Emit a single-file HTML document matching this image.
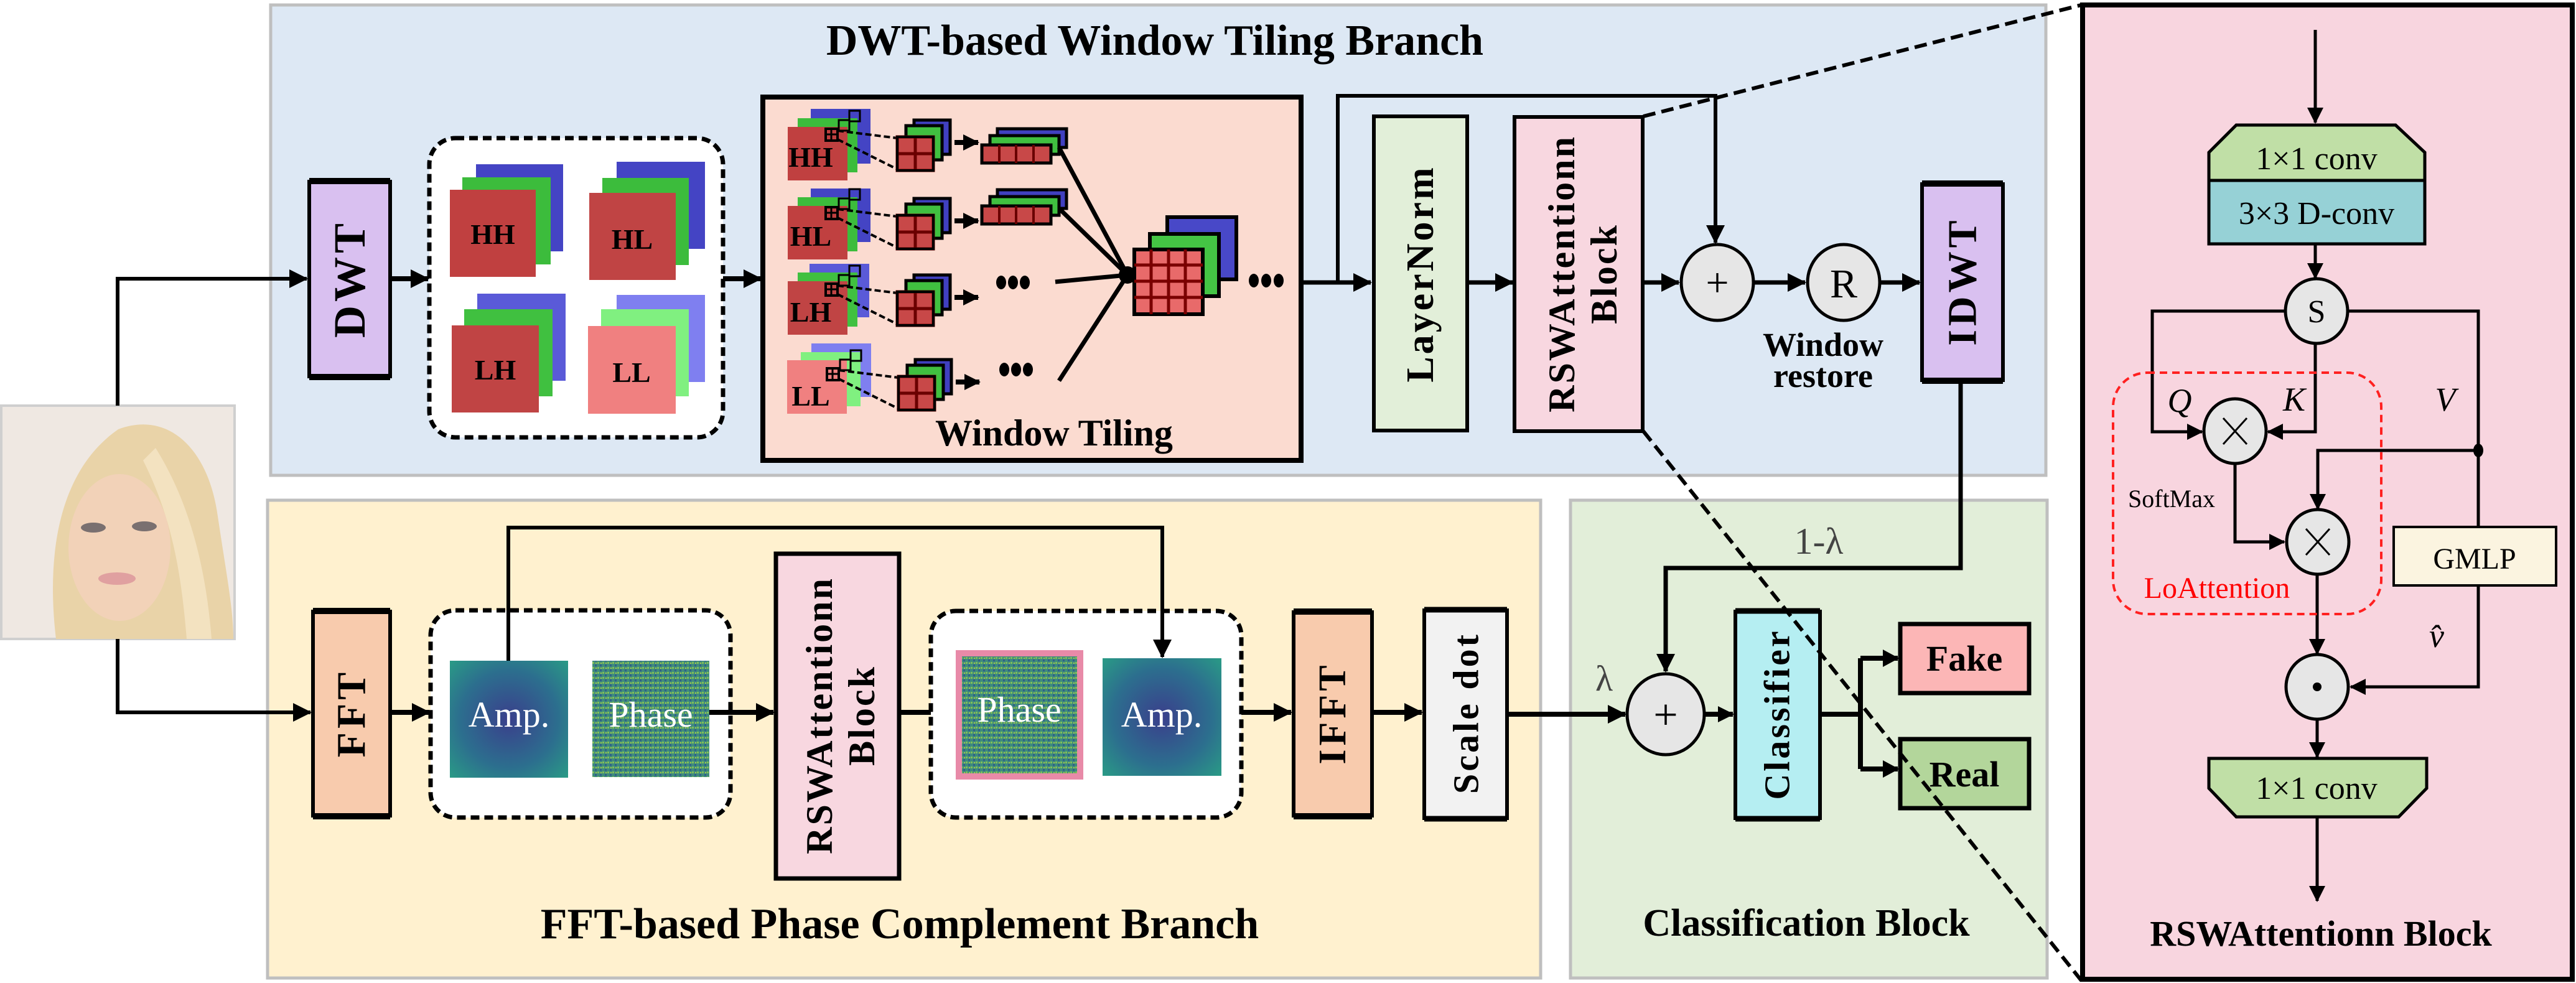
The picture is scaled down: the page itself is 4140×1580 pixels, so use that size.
<!DOCTYPE html>
<html><head><meta charset="utf-8"><style>html,body{margin:0;padding:0;background:#fff}svg{display:block}</style></head>
<body>
<svg xmlns="http://www.w3.org/2000/svg" width="4140" height="1580" viewBox="0 0 4140 1580">
<defs>
<marker id="ah" markerUnits="userSpaceOnUse" markerWidth="30" markerHeight="30" refX="28" refY="15" orient="auto"><path d="M0,0 L30,15 L0,30 z" fill="#000"/></marker>
<marker id="as" markerUnits="userSpaceOnUse" markerWidth="26" markerHeight="26" refX="24" refY="13" orient="auto"><path d="M0,0 L26,13 L0,26 z" fill="#000"/></marker>
<radialGradient id="amp" cx="0.5" cy="0.5" r="0.7"><stop offset="0" stop-color="#3a3f8c"/><stop offset="0.6" stop-color="#2c6f8e"/><stop offset="1" stop-color="#2a9a86"/></radialGradient>
<pattern id="noise" width="8" height="8" patternUnits="userSpaceOnUse"><rect width="8" height="8" fill="#3f8b7c"/><rect x="0" y="0" width="3" height="3" fill="#7fbf5a"/><rect x="4" y="4" width="3" height="3" fill="#2f5f8a"/><rect x="5" y="1" width="2" height="2" fill="#a8c94a"/></pattern>
<g id="tiles">
 <rect x="27" y="-27" width="58" height="55" fill="#4040c0" stroke="#000" stroke-width="5"/>
 <rect x="14" y="-18" width="58" height="55" fill="#40c040" stroke="#000" stroke-width="5"/>
 <rect x="0" y="0" width="58" height="54" fill="#c84848" stroke="#6a0000" stroke-width="5"/>
 <path d="M29,0V54M0,27H58" stroke="#6a0000" stroke-width="5"/>
 <rect x="0" y="0" width="58" height="54" fill="none" stroke="#000" stroke-width="4"/>
</g>
<g id="strip">
 <rect x="25" y="-26" width="111" height="30" fill="#4040c0" stroke="#000" stroke-width="5"/>
 <rect x="13" y="-15" width="111" height="30" fill="#40c040" stroke="#000" stroke-width="5"/>
 <rect x="0" y="0" width="111" height="29" fill="#c84848" stroke="#000" stroke-width="5"/>
 <path d="M28,0V29M55,0V29M83,0V29" stroke="#6a0000" stroke-width="4"/>
</g>
<g id="rowt">
<rect x="1327" y="207" width="19" height="19" fill="none" stroke="#000" stroke-width="4"/><path d="M1336,207V226M1327,216H1346" stroke="#000" stroke-width="3"/>
<rect x="1348" y="193" width="17" height="17" fill="none" stroke="#000" stroke-width="3"/>
<rect x="1365" y="178" width="17" height="17" fill="none" stroke="#000" stroke-width="3"/>
<path d="M1346,210 L1442,222 M1346,224 L1442,272" stroke="#000" stroke-width="4" stroke-dasharray="10,5"/>
<use href="#tiles" x="1442" y="220"/>
<line x1="1534" y1="229" x2="1572" y2="229" stroke="#000" stroke-width="8" marker-end="url(#as)"/>
</g>
</defs>

<!-- panels -->
<rect x="435" y="8" width="2853" height="756" fill="#dde8f4" stroke="#bfbfbf" stroke-width="5"/>
<rect x="430" y="804" width="2046" height="768" fill="#fff1cf" stroke="#bfbfbf" stroke-width="5"/>
<rect x="2524" y="804" width="766" height="768" fill="#e2eed9" stroke="#bfbfbf" stroke-width="5"/>
<rect x="3347" y="8" width="787" height="1566" fill="#f8d5df" stroke="#000" stroke-width="8"/>

<!-- titles -->
<g font-family="Liberation Serif, serif" font-weight="bold" fill="#000">
<text x="1856" y="88" font-size="70" text-anchor="middle">DWT-based Window Tiling Branch</text>
<text x="1446" y="1508" font-size="70" text-anchor="middle">FFT-based Phase Complement Branch</text>
<text x="2903" y="1504" font-size="62" text-anchor="middle">Classification Block</text>
<text x="3730" y="1520" font-size="58" text-anchor="middle">RSWAttentionn Block</text>
</g>

<!-- face -->
<rect x="2" y="652" width="375" height="375" fill="#efe8e2" stroke="#cfcfcf" stroke-width="4"/>
<path d="M90,1027 C75,900 90,760 190,690 C270,660 335,720 350,830 C365,930 375,980 375,1027 Z" fill="#e9d3a8"/>
<ellipse cx="192" cy="880" rx="82" ry="118" fill="#f2d2b8"/>
<ellipse cx="150" cy="848" rx="20" ry="8" fill="#7a7070"/><ellipse cx="232" cy="846" rx="20" ry="8" fill="#7a7070"/>
<ellipse cx="188" cy="930" rx="30" ry="10" fill="#e0a0a0"/>
<path d="M250,720 C300,800 330,900 340,1027 L300,1027 C290,900 270,820 230,740Z" fill="#f3e2c0"/>

<!-- input lines -->
<g stroke="#000" stroke-width="6" fill="none">
<path d="M189,652 V448 H493" marker-end="url(#ah)"/>
<path d="M189,1027 V1145 H499" marker-end="url(#ah)"/>
</g>

<!-- DWT box -->
<rect x="497" y="292" width="130" height="313" fill="#d9c0f0" stroke="#000" stroke-width="6"/>
<path d="M497,291H627M497,606H627" stroke="#000" stroke-width="10"/>
<line x1="629" y1="448" x2="688" y2="448" stroke="#000" stroke-width="8" marker-end="url(#ah)"/>

<!-- dashed box 1 -->
<rect x="690" y="222" width="472" height="481" rx="42" fill="#fff" stroke="#000" stroke-width="7" stroke-dasharray="14,8"/>
<g>
<rect x="765" y="264" width="140" height="140" fill="#4444c4"/><rect x="743" y="285" width="142" height="140" fill="#3cbc3c"/><rect x="723" y="305" width="138" height="140" fill="#c04040"/>
<rect x="991" y="260" width="142" height="140" fill="#4444c4"/><rect x="968" y="286" width="139" height="140" fill="#3cbc3c"/><rect x="947" y="310" width="139" height="140" fill="#c04444"/>
<rect x="767" y="472" width="142" height="140" fill="#5a5ad8"/><rect x="746" y="497" width="142" height="140" fill="#40c040"/><rect x="726" y="523" width="140" height="140" fill="#c04444"/>
<rect x="991" y="474" width="142" height="140" fill="#7f7ff0"/><rect x="966" y="497" width="141" height="140" fill="#80f080"/><rect x="945" y="524" width="141" height="141" fill="#f08080"/>
</g>
<g font-family="Liberation Serif, serif" font-weight="bold" font-size="46" text-anchor="middle">
<text x="792" y="392">HH</text><text x="1016" y="400">HL</text><text x="796" y="610">LH</text><text x="1015" y="614">LL</text>
</g>
<line x1="1162" y1="448" x2="1223" y2="448" stroke="#000" stroke-width="8" marker-end="url(#ah)"/>

<!-- Window tiling -->
<rect x="1226" y="156" width="865" height="584" fill="#fbdbd0" stroke="#000" stroke-width="8"/>
<text x="1694" y="716" font-family="Liberation Serif, serif" font-weight="bold" font-size="60" text-anchor="middle">Window Tiling</text>
<!-- row images -->
<rect x="1303" y="175" width="96" height="88" fill="#4444c4"/><rect x="1282" y="190" width="96" height="87" fill="#3cbc3c"/><rect x="1266" y="204" width="96" height="86" fill="#c04040"/>
<rect x="1303" y="303" width="96" height="86" fill="#4444c4"/><rect x="1282" y="317" width="96" height="87" fill="#3cbc3c"/><rect x="1266" y="331" width="96" height="86" fill="#c04040"/>
<rect x="1301" y="424" width="96" height="86" fill="#5a5ad8"/><rect x="1282" y="438" width="96" height="87" fill="#40c040"/><rect x="1266" y="452" width="96" height="86" fill="#c04444"/>
<rect x="1304" y="552" width="96" height="86" fill="#7f7ff0"/><rect x="1287" y="566" width="96" height="87" fill="#80f080"/><rect x="1265" y="579" width="96" height="86" fill="#f08080"/>
<use href="#rowt" x="0" y="0"/>
<use href="#rowt" x="0" y="126"/>
<use href="#rowt" x="0" y="249"/>
<use href="#rowt" x="2" y="385"/>
<use href="#strip" x="1578" y="233"/>
<use href="#strip" x="1578" y="331"/>
<g font-family="Liberation Serif, serif" font-weight="bold" font-size="46" text-anchor="middle">
<text x="1303" y="268">HH</text><text x="1303" y="395">HL</text><text x="1303" y="517">LH</text><text x="1303" y="652">LL</text>
</g>
<g fill="#000">
<ellipse cx="1609" cy="454" rx="8" ry="11"/><ellipse cx="1628" cy="454" rx="8" ry="11"/><ellipse cx="1647" cy="454" rx="8" ry="11"/>
<ellipse cx="1614" cy="594" rx="8" ry="11"/><ellipse cx="1633" cy="594" rx="8" ry="11"/><ellipse cx="1652" cy="594" rx="8" ry="11"/>
<ellipse cx="2015" cy="451" rx="8" ry="11"/><ellipse cx="2035" cy="451" rx="8" ry="11"/><ellipse cx="2055" cy="451" rx="8" ry="11"/>
</g>
<g stroke="#000" stroke-width="7">
<line x1="1702" y1="237" x2="1812" y2="442"/><line x1="1702" y1="335" x2="1812" y2="442"/><line x1="1696" y1="453" x2="1812" y2="442"/><line x1="1702" y1="612" x2="1812" y2="442"/>
</g>
<circle cx="1812" cy="442" r="14" fill="#000"/>
<!-- big stack -->
<rect x="1876" y="349" width="111" height="100" fill="#4848c8" stroke="#000" stroke-width="6"/>
<rect x="1848" y="376" width="111" height="100" fill="#44c444" stroke="#000" stroke-width="6"/>
<rect x="1823" y="401" width="110" height="104" fill="#e86a6a" stroke="#000" stroke-width="6"/>
<path d="M1823,426H1933M1823,452H1933M1823,478H1933M1850,401V505M1878,401V505M1905,401V505" stroke="#7a0000" stroke-width="5"/>

<!-- LayerNorm etc -->
<g stroke="#000" stroke-width="7" fill="none">
<path d="M2092,454 H2203" marker-end="url(#ah)"/>
<path d="M2150,454 V154 H2757 V390" marker-end="url(#ah)" stroke-width="6"/>
<path d="M2359,454 H2431" marker-end="url(#ah)"/>
<path d="M2641,454 H2698" marker-end="url(#ah)"/>
<path d="M2820,454 H2901" marker-end="url(#ah)"/>
<path d="M3023,454 H3085" marker-end="url(#ah)"/>
</g>
<rect x="2208" y="187" width="150" height="505" fill="#e2efd9" stroke="#000" stroke-width="6"/>
<rect x="2434" y="188" width="206" height="505" fill="#f8d7e0" stroke="#000" stroke-width="6"/>
<ellipse cx="2760" cy="454" rx="58" ry="61" fill="#e6e6e6" stroke="#000" stroke-width="5"/>
<ellipse cx="2963" cy="454" rx="58" ry="61" fill="#e6e6e6" stroke="#000" stroke-width="5"/>
<text x="2760" y="476" font-family="Liberation Serif, serif" font-size="66" text-anchor="middle">+</text>
<text x="2963" y="478" font-family="Liberation Serif, serif" font-size="66" text-anchor="middle">R</text>
<g font-family="Liberation Serif, serif" font-weight="bold" font-size="54" text-anchor="middle">
<text x="2930" y="572">Window</text><text x="2930" y="622">restore</text>
</g>
<rect x="3089" y="296" width="130" height="315" fill="#d9c0f0" stroke="#000" stroke-width="6"/>
<path d="M3089,295H3219M3089,612H3219" stroke="#000" stroke-width="10"/>

<!-- FFT branch -->
<rect x="503" y="983" width="124" height="328" fill="#f8cbad" stroke="#000" stroke-width="6"/>
<path d="M503,982H627M503,1312H627" stroke="#000" stroke-width="10"/>
<line x1="629" y1="1145" x2="690" y2="1145" stroke="#000" stroke-width="8" marker-end="url(#ah)"/>
<rect x="692" y="981" width="482" height="333" rx="40" fill="#fff" stroke="#000" stroke-width="7" stroke-dasharray="14,8"/>
<rect x="723" y="1062" width="190" height="188" fill="url(#amp)"/>
<rect x="952" y="1062" width="188" height="187" fill="url(#noise)"/>
<line x1="1140" y1="1145" x2="1243" y2="1145" stroke="#000" stroke-width="8" marker-end="url(#ah)"/>
<rect x="1247" y="890" width="198" height="522" fill="#f8d7e0" stroke="#000" stroke-width="7"/>
<line x1="1446" y1="1145" x2="1534" y2="1145" stroke="#000" stroke-width="8" marker-end="url(#ah)"/>
<rect x="1496" y="982" width="499" height="332" rx="40" fill="#fff" stroke="#000" stroke-width="7" stroke-dasharray="14,8"/>
<rect x="1541" y="1050" width="195" height="198" fill="url(#noise)" stroke="#e88aa8" stroke-width="10"/>
<rect x="1772" y="1058" width="191" height="189" fill="url(#amp)"/>
<path d="M817,1062 V848 H1868 V1056" stroke="#000" stroke-width="6" fill="none" marker-end="url(#ah)"/>
<g font-family="Liberation Serif, serif" font-size="58" fill="#fff" text-anchor="middle">
<text x="818" y="1168">Amp.</text><text x="1046" y="1168">Phase</text><text x="1638" y="1160">Phase</text><text x="1867" y="1168">Amp.</text>
</g>
<line x1="1995" y1="1145" x2="2075" y2="1145" stroke="#000" stroke-width="8" marker-end="url(#ah)"/>
<rect x="2079" y="984" width="126" height="327" fill="#f8cbad" stroke="#000" stroke-width="6"/>
<path d="M2079,983H2205M2079,1312H2205" stroke="#000" stroke-width="10"/>
<line x1="2207" y1="1145" x2="2285" y2="1145" stroke="#000" stroke-width="8" marker-end="url(#ah)"/>
<rect x="2289" y="981" width="133" height="334" fill="#f2f2f2" stroke="#000" stroke-width="6"/>
<path d="M2289,980H2422M2289,1316H2422" stroke="#000" stroke-width="9"/>

<!-- classification -->
<path d="M3151,612 V913 H2677 V1079" stroke="#000" stroke-width="7" fill="none" marker-end="url(#ah)"/>
<line x1="2423" y1="1148" x2="2612" y2="1148" stroke="#000" stroke-width="8" marker-end="url(#ah)"/>
<ellipse cx="2677" cy="1148" rx="62" ry="65" fill="#e6e6e6" stroke="#000" stroke-width="5"/>
<text x="2677" y="1172" font-family="Liberation Serif, serif" font-size="70" text-anchor="middle">+</text>
<text x="2923" y="890" font-family="Liberation Serif, serif" font-size="60" fill="#444" text-anchor="middle">1-λ</text>
<text x="2578" y="1110" font-family="Liberation Serif, serif" font-size="58" fill="#444" text-anchor="middle">λ</text>
<line x1="2740" y1="1148" x2="2785" y2="1148" stroke="#000" stroke-width="8" marker-end="url(#as)"/>
<rect x="2789" y="983" width="136" height="332" fill="#b5eef2" stroke="#000" stroke-width="6"/>
<path d="M2789,982H2925M2789,1316H2925" stroke="#000" stroke-width="9"/>
<path d="M2926,1148 H2990 M2990,1058 V1236 M2990,1058 H3050 M2990,1236 H3050" stroke="#000" stroke-width="8" fill="none"/>
<path d="M3026,1044 L3052,1058 L3026,1072Z M3026,1222 L3052,1236 L3026,1250Z" fill="#000"/>
<rect x="3054" y="1003" width="207" height="111" fill="#fcb6b6" stroke="#000" stroke-width="7"/>
<rect x="3054" y="1188" width="207" height="111" fill="#b3d69b" stroke="#000" stroke-width="7"/>
<g font-family="Liberation Serif, serif" font-weight="bold" font-size="58" text-anchor="middle">
<text x="3157" y="1078">Fake</text><text x="3157" y="1264">Real</text>
</g>

<!-- rotated labels -->
<g font-family="Liberation Serif, serif" font-weight="bold" text-anchor="middle" dominant-baseline="central" fill="#000">
<text transform="translate(562,448) rotate(-90)" font-size="72" letter-spacing="6">DWT</text>
<text transform="translate(2283,440) rotate(-90)" font-size="62" letter-spacing="4">LayerNorm</text>
<text transform="translate(2510,440) rotate(-90)" font-size="60" letter-spacing="3">RSWAttentionn</text>
<text transform="translate(2578,440) rotate(-90)" font-size="60" letter-spacing="3">Block</text>
<text transform="translate(3154,452) rotate(-90)" font-size="66" letter-spacing="6">IDWT</text>
<text transform="translate(565,1146) rotate(-90)" font-size="66" letter-spacing="6">FFT</text>
<text transform="translate(1317,1150) rotate(-90)" font-size="60" letter-spacing="3">RSWAttentionn</text>
<text transform="translate(1385,1150) rotate(-90)" font-size="60" letter-spacing="3">Block</text>
<text transform="translate(2142,1146) rotate(-90)" font-size="62" letter-spacing="6">IFFT</text>
<text transform="translate(2356,1146) rotate(-90)" font-size="58" letter-spacing="4">Scale dot</text>
<text transform="translate(2856,1148) rotate(-90)" font-size="58" letter-spacing="4">Classifier</text>
</g>

<!-- zoom dashed lines -->
<g stroke="#000" stroke-width="6" stroke-dasharray="20,10" fill="none">
<line x1="2641" y1="187" x2="3345" y2="8"/>
<line x1="2641" y1="693" x2="3345" y2="1576"/>
</g>

<!-- right panel internals -->
<g stroke="#000" stroke-width="5" fill="none">
<line x1="3721" y1="48" x2="3721" y2="197" marker-end="url(#as)"/>
<line x1="3721" y1="392" x2="3721" y2="447" marker-end="url(#as)"/>
<path d="M3672,500 H3459 V694 H3539" marker-end="url(#as)"/>
<path d="M3773,500 H3983 V846"/>
<path d="M3983,941 V1104 H3778" marker-end="url(#as)"/>
<path d="M3721,552 V694 H3645" marker-end="url(#as)"/>
<path d="M3983,724 H3725 V818" marker-end="url(#as)"/>
<path d="M3592,745 V871 H3671" marker-end="url(#as)"/>
<line x1="3724" y1="923" x2="3724" y2="1051" marker-end="url(#as)"/>
<line x1="3724" y1="1156" x2="3724" y2="1217" marker-end="url(#as)"/>
<line x1="3724" y1="1313" x2="3724" y2="1448" marker-end="url(#as)"/>
</g>
<ellipse cx="3983" cy="724" rx="8" ry="11" fill="#000"/>
<path d="M3594,201 H3850 L3897,245 V290 H3550 V245 Z" fill="#c0dfa6" stroke="#000" stroke-width="5"/>
<rect x="3550" y="290" width="347" height="102" fill="#96d1d6" stroke="#000" stroke-width="5"/>
<path d="M3550,1219 H3900 V1267 L3855,1313 H3594 L3550,1267 Z" fill="#c0dfa6" stroke="#000" stroke-width="5"/>
<rect x="3396" y="599" width="431" height="388" rx="55" fill="none" stroke="#ff2020" stroke-width="4" stroke-dasharray="12,8"/>
<rect x="3847" y="847" width="261" height="94" fill="#fbf4e0" stroke="#000" stroke-width="4"/>
<g fill="#e6e6e6" stroke="#000" stroke-width="5">
<ellipse cx="3723" cy="500" rx="50" ry="52"/>
<ellipse cx="3592" cy="693" rx="50" ry="52"/>
<ellipse cx="3725" cy="871" rx="50" ry="52"/>
<ellipse cx="3724" cy="1104" rx="50" ry="52"/>
</g>
<path d="M3573,672 L3611,714 M3611,672 L3573,714 M3706,850 L3744,892 M3744,850 L3706,892" stroke="#000" stroke-width="3"/>
<circle cx="3724" cy="1104" r="7" fill="#000"/>
<g font-family="Liberation Serif, serif" font-size="52" text-anchor="middle" fill="#000">
<text x="3723" y="272">1×1 conv</text>
<text x="3723" y="360">3×3 D-conv</text>
<text x="3723" y="1284">1×1 conv</text>
<text x="3723" y="518">S</text>
<text x="3977" y="914" font-size="48">GMLP</text>
<text x="3490" y="815" font-size="40">SoftMax</text>
<text x="3563" y="961" font-size="48" fill="#ff0000">LoAttention</text>
<g font-style="italic" font-size="54"><text x="3503" y="662">Q</text><text x="3687" y="660">K</text><text x="3930" y="660">V</text><text x="3916" y="1040">v̂</text></g>
</g>
</svg>
</body></html>
